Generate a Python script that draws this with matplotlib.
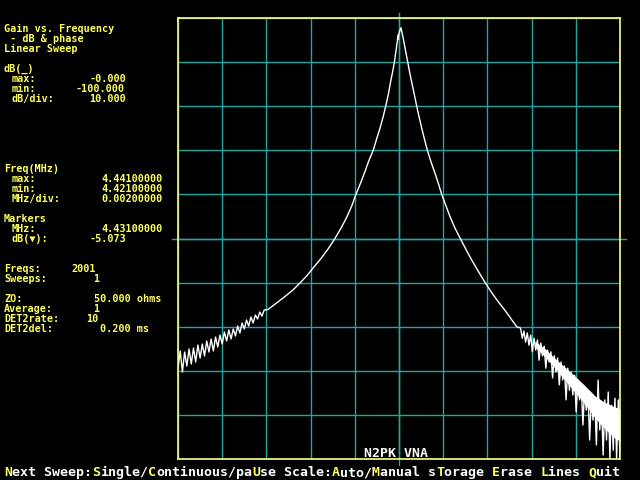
import numpy as np
import matplotlib
matplotlib.use("Agg")
import matplotlib.pyplot as plt
import matplotlib.transforms as mtransforms
from matplotlib.font_manager import FontProperties

# -----------------------------------------------------------------------------
# SWEEP SETTINGS (as shown on the VNA screen)
# -----------------------------------------------------------------------------

F_MIN, F_MAX, F_DIV = 4.421, 4.441, 0.002        # MHz
DB_MIN, DB_MAX, DB_DIV = -100.0, -0.0, 10.0      # dB
MARKER_MHZ = 4.431
MARKER_DB = -5.073
N_FREQS = 2001
N_SWEEPS = 1
Z0 = 50.0
AVERAGE = 1
DET2_RATE = 10
DET2_DEL = 0.200

# -----------------------------------------------------------------------------
# TRACE
# noisy low end on the left, clean skirts + peak in the middle, noisy right tail
# -----------------------------------------------------------------------------

left_noise_mhz = np.linspace(4.4210, 4.4249, 40)
left_noise_db = [-79.37, -75.51, -80.27, -75.74, -78.91, -75.06, -78.46, -74.83,
                 -78.01, -74.15, -77.10, -73.92, -76.64, -73.24, -75.74, -72.79,
                 -75.51, -72.34, -74.60, -71.88, -73.92, -71.20, -73.24, -70.75,
                 -72.79, -70.52, -72.11, -69.84, -71.43, -69.16, -70.52, -68.48,
                 -69.84, -67.80, -69.16, -67.35, -68.26, -66.67, -67.58, -66.21]

skirt_mhz = [4.42507, 4.42543, 4.42584, 4.42620, 4.42652, 4.42684, 4.42715,
             4.42747, 4.42779, 4.42810, 4.42838, 4.42865, 4.42887, 4.42905,
             4.42928, 4.42946, 4.42964, 4.42984, 4.43000, 4.43014, 4.43028,
             4.43040, 4.43053, 4.43062, 4.43071, 4.43079, 4.43090, 4.43097,
             4.43093, 4.43102, 4.43109,
             4.43119, 4.43129, 4.43139, 4.43148, 4.43157, 4.43168, 4.43180,
             4.43191, 4.43203, 4.43215, 4.43228, 4.43245, 4.43263, 4.43279,
             4.43293, 4.43313, 4.43331, 4.43353, 4.43377, 4.43403, 4.43429,
             4.43458, 4.43489, 4.43519, 4.43549, 4.43573, 4.43595, 4.43614,
             4.43633]
skirt_db = [-66.10, -64.74, -63.15, -61.68, -60.09, -58.39, -56.46,
            -54.54, -52.38, -50.00, -47.62, -45.01, -42.52, -40.02,
            -37.19, -34.81, -32.31, -29.93, -27.21, -25.01, -22.45,
            -19.95, -17.01, -14.44, -12.25, -10.05, -6.12, -3.85,
            -4.99, -3.17, -2.20,
            -4.60, -7.26, -10.05, -12.25, -14.44, -17.01, -19.95,
            -22.45, -25.01, -27.44, -29.93, -32.65, -35.22, -37.64,
            -39.98, -42.63, -45.06, -47.62, -49.96, -52.49, -54.88,
            -57.37, -59.93, -62.25, -64.33, -65.87, -67.35, -68.71,
            -70.00]

right_noise_mhz = np.linspace(4.4365, 4.4410, 60)
right_noise_db = [-70.3, -72.6, -71.0, -73.5, -71.4, -74.2, -71.9, -75.7, -72.6, -75.3,
                  -73.0, -77.6, -73.7, -76.6, -74.4, -79.4, -75.3, -78.0, -75.7, -81.6,
                  -76.6, -80.3, -77.1, -83.2, -78.0, -82.1, -78.9, -86.6, -79.4, -84.4,
                  -80.3, -85.5, -81.0, -89.3, -82.1, -86.6, -83.2, -92.3, -83.9, -88.9,
                  -84.8, -95.7, -85.5, -91.2, -86.2, -96.8, -82.1, -93.4, -87.1, -99.1,
                  -86.6, -95.7, -84.8, -100.0, -87.8, -98.0, -86.2, -100.0, -86.6, -100.0]

# dense core of the noisy tail (where the samples pile up into a solid band)
tail_core_mhz = [4.43715, 4.43761, 4.43806, 4.43851, 4.43896,
                 4.43942, 4.43987, 4.44032, 4.44077, 4.44100]
tail_core_hi = [-73.3, -75.0, -77.2, -79.2, -81.2, -83.4, -85.7, -87.2, -88.2, -88.6]
tail_core_lo = [-74.6, -76.8, -79.4, -82.1, -84.8, -87.6, -90.6, -93.2, -95.3, -95.9]

freq = np.concatenate([left_noise_mhz, skirt_mhz, right_noise_mhz])
gain = np.concatenate([left_noise_db, skirt_db, right_noise_db])

# -----------------------------------------------------------------------------
# SCREEN COLOURS / FONT
# -----------------------------------------------------------------------------

BG = "black"
YELLOW = "#ffff60"
BORDER = "#ffff80"
GRID = "#20a8a0"
TRACE = "white"
MONO = ["DejaVu Sans Mono", "DejaVu Sans"]

W, H = 640, 480
CELL = 8          # px per character on the VNA screen
ROW = 10          # px per text row

fp_panel = FontProperties(family=MONO, size=7.3, weight="bold")   # rows 10 px apart
fp_line = FontProperties(family=MONO, size=9.56, weight="bold")    # 8 px per char


def put(col, baseline, s, color=YELLOW, fp=fp_panel, ha="left"):
    x = 4 + CELL * col
    if ha == "center":
        x += CELL * len(s) / 2
    fig.text(x / W, 1 - baseline / H, s, color=color,
             fontproperties=fp, ha=ha, va="baseline")


fig = plt.figure(figsize=(6.4, 4.8), dpi=100, facecolor=BG)
ax = fig.add_axes([178 / W, 1 - 459 / H, 442 / W, 441 / H], facecolor=BG)

# --- grid: 10 x 10 divisions ---
ax.set_xlim(F_MIN, F_MAX)
ax.set_ylim(DB_MIN, DB_MAX)
ax.set_xticks(np.arange(F_MIN, F_MAX + F_DIV / 2, F_DIV))
ax.set_yticks(np.arange(DB_MIN, DB_MAX + DB_DIV / 2, DB_DIV))
ax.tick_params(length=0, labelbottom=False, labelleft=False)
ax.grid(True, color=GRID, linewidth=1.0)
for sp in ax.spines.values():
    sp.set_color(BORDER)
    sp.set_linewidth(1.2)
    sp.set_zorder(4)

# centre cross-hair runs a little past the frame
tv = mtransforms.blended_transform_factory(ax.transData, ax.transAxes)
th = mtransforms.blended_transform_factory(ax.transAxes, ax.transData)
ax.plot([MARKER_MHZ, MARKER_MHZ], [-0.014, 1.012], color=GRID, lw=1.0,
        transform=tv, clip_on=False, zorder=1)
mid_db = (DB_MIN + DB_MAX) / 2
ax.plot([-0.014, 1.014], [mid_db, mid_db], color=GRID, lw=1.0,
        transform=th, clip_on=False, zorder=1)

# --- trace ---
ax.fill_between(tail_core_mhz, tail_core_lo, tail_core_hi, color=TRACE, lw=0, zorder=3)
ax.plot(freq, gain, color=TRACE, linewidth=1.0, zorder=3)

put(45, 457, "N2PK VNA", color="white", fp=fp_line)

# -----------------------------------------------------------------------------
# LEFT STATUS PANEL  (row, [(column, text), ...]); values centred on their cells
# -----------------------------------------------------------------------------

panel = [
    (0, [(0, "Gain vs. Frequency")]),
    (1, [(0, " - dB & phase")]),
    (2, [(0, "Linear Sweep")]),
    (4, [(0, "dB(_)")]),
    (5, [(1, "max:"), (10, f"{DB_MAX:.3f}")]),
    (6, [(1, "min:"), (8, f"{DB_MIN:.3f}")]),
    (7, [(1, "dB/div:"), (10, f"{DB_DIV:.3f}")]),
    (14, [(0, "Freq(MHz)")]),
    (15, [(1, "max:"), (11, f"{F_MAX:.8f}")]),
    (16, [(1, "min:"), (11, f"{F_MIN:.8f}")]),
    (17, [(1, "MHz/div:"), (11, f"{F_DIV:.8f}")]),
    (19, [(0, "Markers")]),
    (20, [(1, "MHz:"), (11, f"{MARKER_MHZ:.8f}")]),
    (21, [(1, "dB(\u25bc):"), (10, f"{MARKER_DB:.3f}")]),
    (24, [(0, "Freqs:"), (8, f"{N_FREQS}")]),
    (25, [(0, "Sweeps:"), (11, f"{N_SWEEPS}")]),
    (27, [(0, "ZO:"), (10, f"{Z0:.3f} ohms")]),
    (28, [(0, "Average:"), (11, f"{AVERAGE}")]),
    (29, [(0, "DET2rate:"), (10, f"{DET2_RATE}")]),
    (30, [(0, "DET2del:"), (11, f"{DET2_DEL:.3f} ms")]),
]
for row, parts in panel:
    for k, (col, s) in enumerate(parts):
        put(col, 32 + ROW * row, s, ha="left" if k == 0 else "center")

# -----------------------------------------------------------------------------
# COMMAND LINE (hot keys in yellow)
# -----------------------------------------------------------------------------

menu = "Next Sweep:Single/Continuous/paUse Scale:Auto/Manual sTorage Erase Lines Quit"
hotkeys = {0, 11, 18, 31, 41, 46, 54, 61, 67, 73}
start = 0
for i in range(1, len(menu) + 1):
    if i == len(menu) or (i in hotkeys) != (start in hotkeys):
        put(start, 476, menu[start:i], YELLOW if start in hotkeys else "white", fp=fp_line)
        start = i

fig.savefig("out.png", dpi=100, facecolor=BG)
